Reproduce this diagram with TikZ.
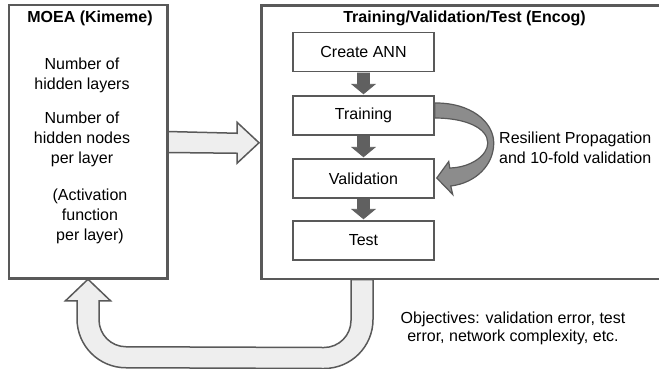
\documentclass[tikz,border=0pt]{standalone}
\usepackage{fontspec}
\setmainfont{Liberation Sans}
\usetikzlibrary{calc}
\definecolor{edgegray}{RGB}{89,89,89}
\definecolor{lightfill}{RGB}{238,238,238}
\definecolor{darkfill}{RGB}{96,96,96}
\definecolor{midfill}{RGB}{140,140,140}
\tikzset{
  panel/.style={draw=edgegray, line width=1.5pt, fill=white, inner sep=0pt},
  stepbox/.style={draw=edgegray, line width=1.5pt, fill=white, inner sep=0pt,
    minimum width=141pt, minimum height=39pt},
  txt/.style={inner sep=0pt, align=center, text=black},
  bigarrow/.style={draw=edgegray, line width=1.5pt, fill=lightfill, line join=miter},
  smallarrow/.style={draw=darkfill, line width=0.8pt, fill=darkfill, line join=miter},
  loopback/.style={draw=edgegray, line width=1.2pt, fill=midfill, line join=miter}
}
\begin{document}
\begin{tikzpicture}[x=1pt, y=-1pt, font=\fontsize{16}{20}\selectfont]
\clip (0,0) rectangle (659,368);
\useasboundingbox (0,0) rectangle (659,368);

% the two main panels
\node[panel, minimum width=158pt, minimum height=273pt] (moea) at (88,141.5) {};
\node[panel, minimum width=401pt, minimum height=273pt, anchor=north west] (encog) at (261,5) {};

% steps of the training pipeline
\node[stepbox] (create) at (363.5,52) {Create ANN};
\node[stepbox] (train) at (363.5,115.5) {Training};
\node[stepbox] (valid) at (363.5,178.5) {Validation};
\node[stepbox] (test) at (363.5,240.5) {Test};

% dark arrows between consecutive steps
\foreach \a/\b in {create/train, train/valid, valid/test}{
  \filldraw[smallarrow]
    ($(\a.south)+(-6,0.8)$) -- ($(\b.north)+(-6,-11)$) -- ($(\b.north)+(-11.5,-11)$)
    -- ($(\b.north)+(0,-1.5)$) -- ($(\b.north)+(11.5,-11)$) -- ($(\b.north)+(6,-11)$)
    -- ($(\a.south)+(6,0.8)$) -- cycle;
}

% curved arrow from Training back into Validation
\coordinate (T) at (train.east);
\coordinate (V) at (valid.east);
\filldraw[loopback]
  ($(T)+(0,-12.5)$)
  .. controls ($(T)+(36,-13)$) and ($(T)+(59,6.5)$) .. ($(T)+(59,27.5)$)
  .. controls ($(T)+(59,49.5)$) and ($(T)+(41,67.5)$) .. ($(V)+(16,7.5)$)
  -- ($(V)+(18,16)$) -- ($(V)+(2,-0.5)$) -- ($(V)+(14,-17)$) -- ($(V)+(15,-10.5)$)
  .. controls ($(T)+(36,52)$) and ($(T)+(53,40)$) .. ($(T)+(53,27.5)$)
  .. controls ($(T)+(53,12.5)$) and ($(T)+(31,2.5)$) .. ($(T)+(0,2.5)$)
  -- cycle;

% hollow arrow from the optimiser to the trainer
\coordinate (A) at (moea.east);
\coordinate (B) at (encog.west);
\filldraw[bigarrow]
  ($(A)+(0,-10)$) -- ($(B)+(-24,-9)$) -- ($(B)+(-24,-20)$) -- ($(B)+(-2,0.5)$)
  -- ($(B)+(-24,21)$) -- ($(B)+(-24,11)$) -- ($(A)+(0,11)$) -- cycle;

% U-shaped feedback arrow carrying the objectives back
\coordinate (R) at ($(test.south |- encog.south)+(-1.5,0)$);
\coordinate (L) at (moea.south);
\filldraw[bigarrow]
  ($(R)+(-11,0)$) -- ($(R)+(-11,41)$)
  .. controls ($(R)+(-11,55.9)$) and ($(R)+(-23.1,68)$) .. ($(R)+(-38,68)$)
  -- ($(L)+(38,68)$)
  .. controls ($(L)+(23.1,68)$) and ($(L)+(11,55.9)$) .. ($(L)+(11,41)$)
  -- ($(L)+(11,22)$) -- ($(L)+(22.5,22)$) -- ($(L)+(0,0.5)$)
  -- ($(L)+(-22.5,22)$) -- ($(L)+(-11,22)$) -- ($(L)+(-11,40)$)
  .. controls ($(L)+(-11,67.1)$) and ($(L)+(10.9,89)$) .. ($(L)+(38,89)$)
  -- ($(R)+(-38,89)$)
  .. controls ($(R)+(-10.9,89)$) and ($(R)+(11,67.1)$) .. ($(R)+(11,40)$)
  -- ($(R)+(11,0)$) -- cycle;

% redraw the panel borders on top of the arrow ends
\draw[edgegray, line width=1.5pt] (moea.south west) rectangle (moea.north east);
\draw[edgegray, line width=1.5pt] (encog.south west) rectangle (encog.north east);

% panel titles
\node[txt, font=\fontsize{16}{20}\selectfont\bfseries] (moeatitle) at (90,18) {MOEA (Kimeme)};
\node[txt, font=\fontsize{16}{20}\selectfont\bfseries] (encogtitle) at (464.5,18) {Training/Validation/Test (Encog)};

% decision variables
\node[txt, anchor=north] (layers) at (82,57.3) {Number of\\hidden layers};
\node[txt, anchor=north] (nodes) at (82,111.3) {Number of\\hidden nodes\\per layer};
\node[txt, anchor=north] (activ) at (90,188.3) {(Activation\\function\\per layer)};

% side notes
\node[txt, align=left, anchor=north west] (rprop) at (499,131.3) {Resilient Propagation\\and 10-fold validation};
\node[txt, anchor=north] (objectives) at (513,311.3) {Objectives: validation error, test\\[-2pt]error, network complexity, etc.};
\end{tikzpicture}
\end{document}
